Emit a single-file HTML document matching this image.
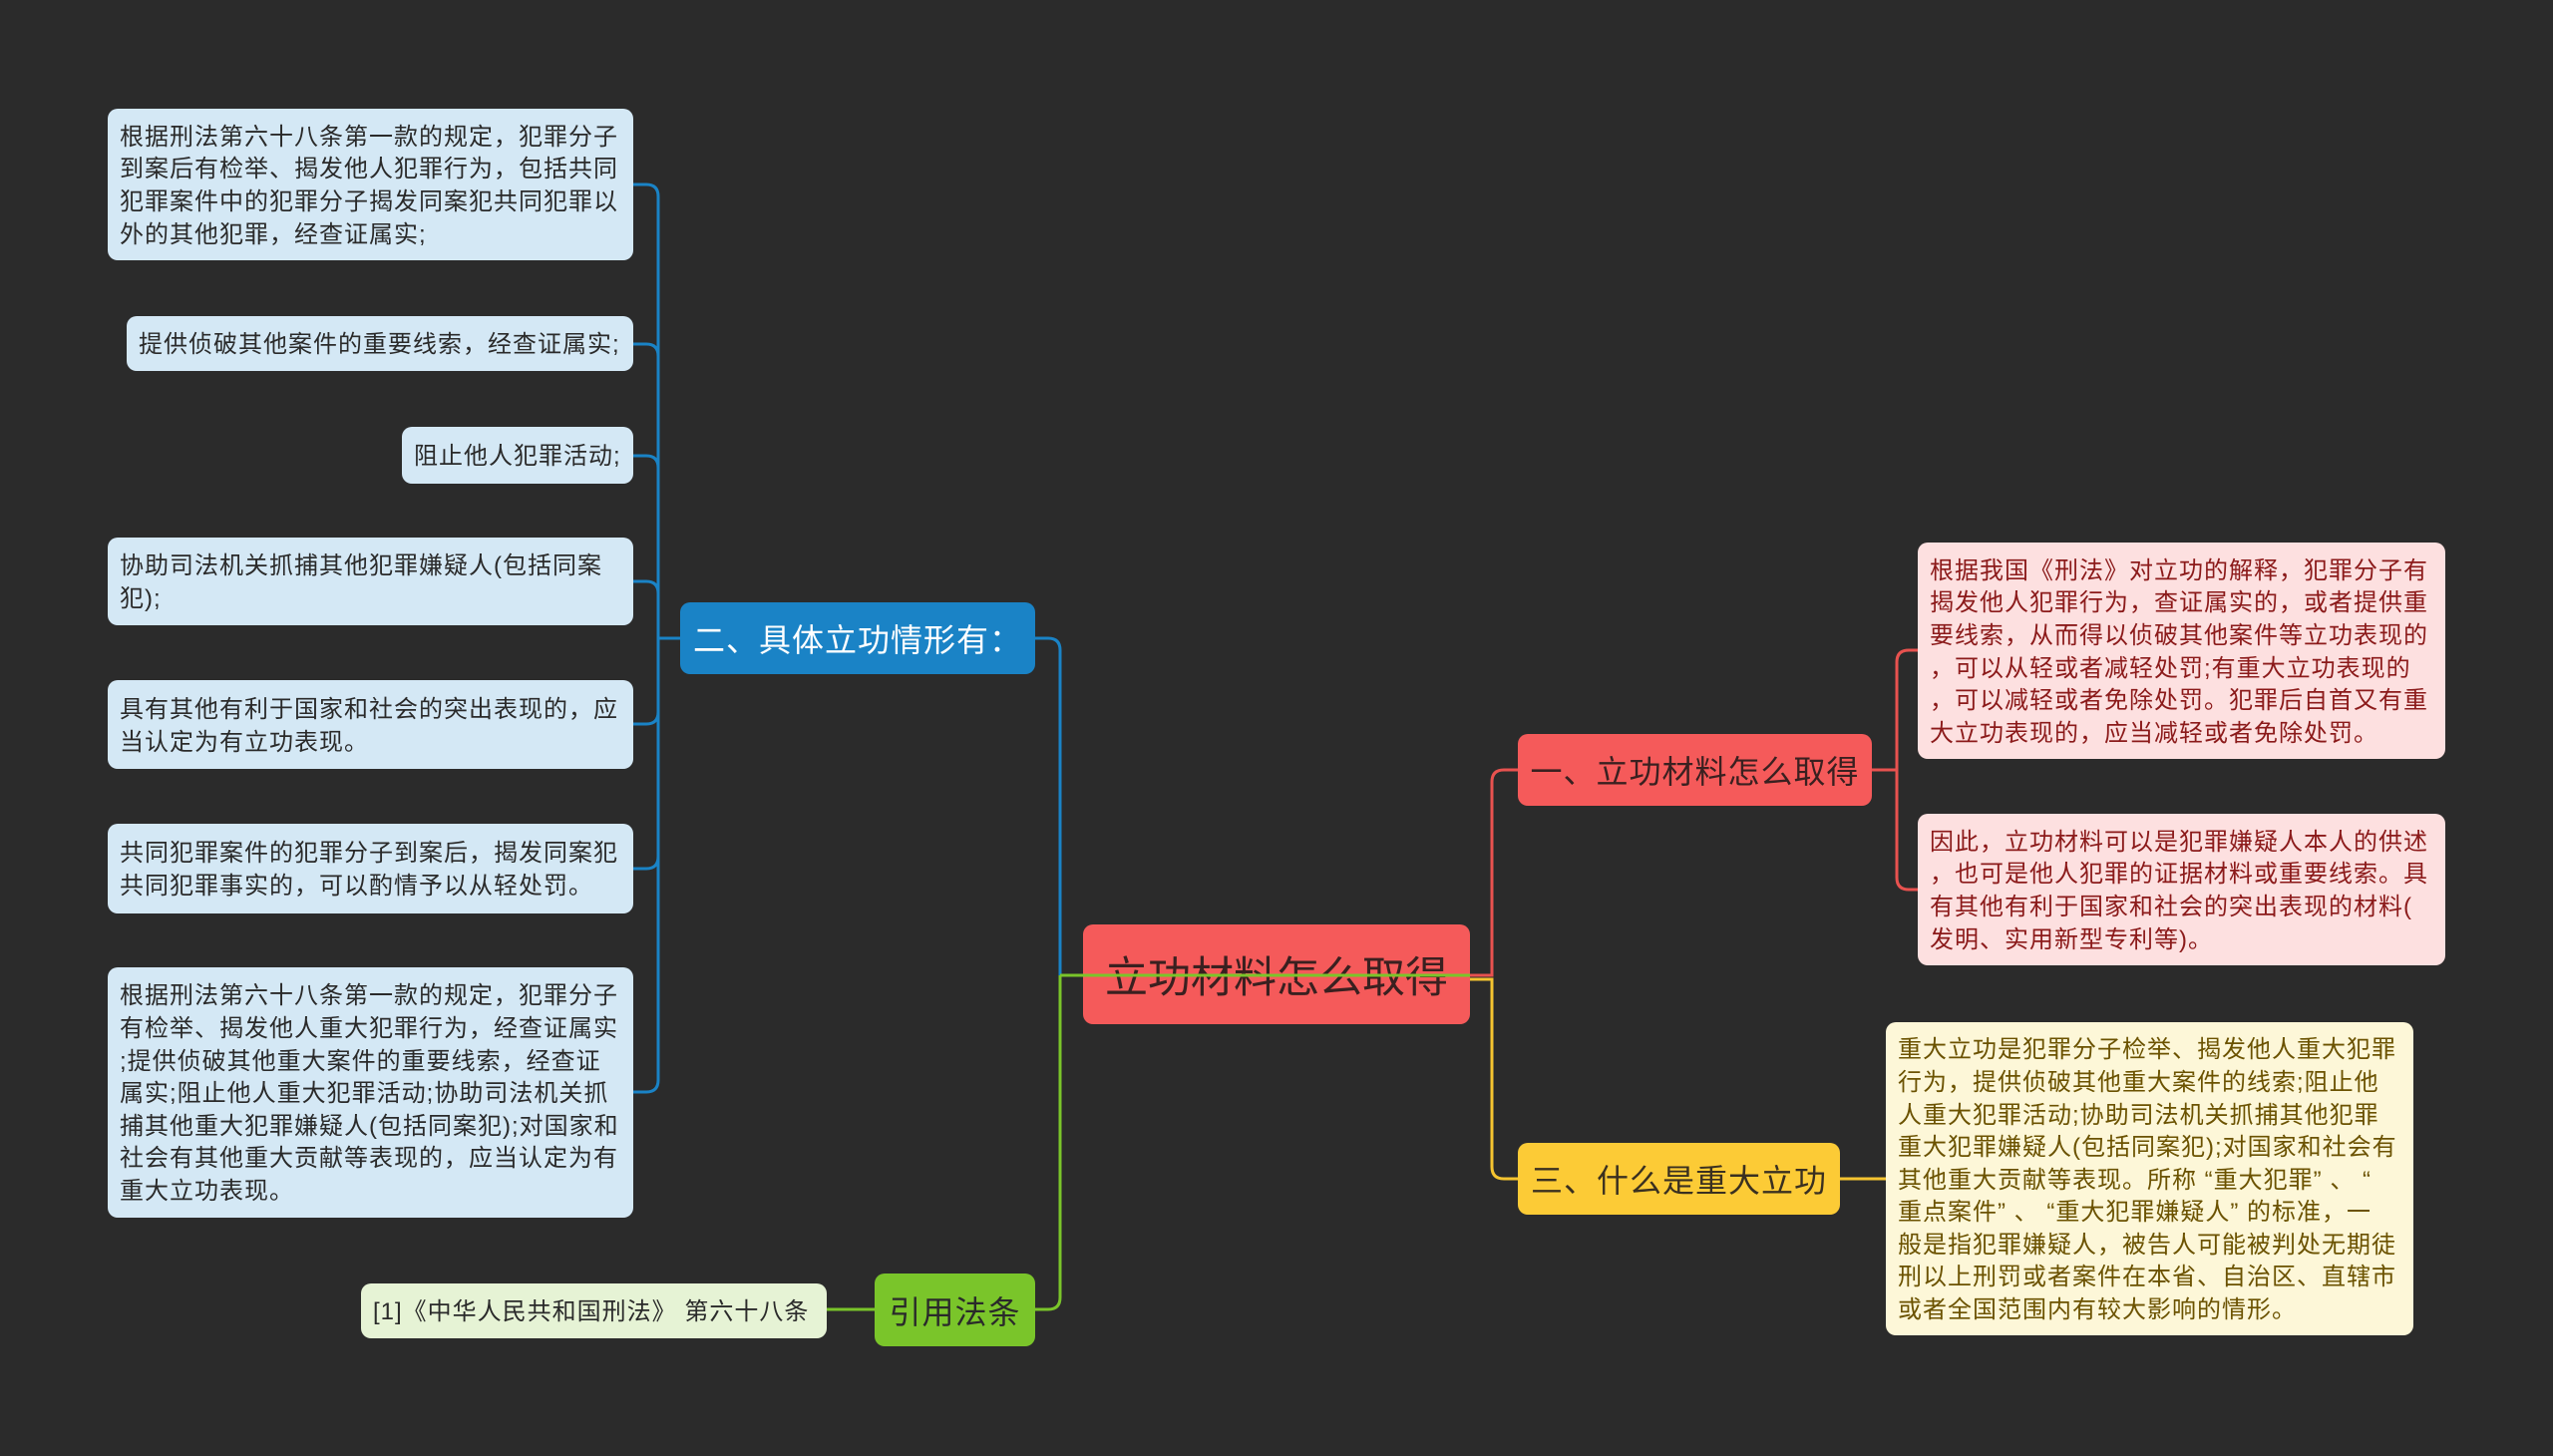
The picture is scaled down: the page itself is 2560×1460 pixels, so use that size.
<!DOCTYPE html>
<html><head><meta charset="utf-8"><style>
body{margin:0;width:2560px;height:1460px;background:#2b2b2b;overflow:hidden;position:relative;font-family:"Liberation Sans","Noto Sans CJK SC",sans-serif}
.n{position:absolute;box-sizing:border-box;border-radius:10px;white-space:nowrap}
.leaf{font-size:24px;line-height:32.6px;padding:4px 12px 0;letter-spacing:1px;display:flex;flex-direction:column;justify-content:center}
.b{background:#d4e8f5;color:#2a2a2a}
.r{background:#fde0e0;color:#8b1a1a}
.y{background:#fdf7d8;color:#6b5200}
.g{background:#e6f3d5;color:#2a2a2a}
.main{display:flex;align-items:center;justify-content:center;letter-spacing:1px}
svg{position:absolute;left:0;top:0}
</style></head><body>
<svg width="2560" height="1460" fill="none" stroke-width="3">
<g stroke="#1a83c6">
<path d="M635 185 H648 Q660 185 660 197 V628"/>
<path d="M635 345 H648 Q660 345 660 357"/>
<path d="M635 457 H648 Q660 457 660 469"/>
<path d="M635 583 H648 Q660 583 660 595"/>
<path d="M635 726 H648 Q660 726 660 714"/>
<path d="M635 871 H648 Q660 871 660 859"/>
<path d="M635 1095 H648 Q660 1095 660 1083 V628"/>
<path d="M660 640 H682"/>
<path d="M1038 640 H1051 Q1063 640 1063 652 V978"/>
</g>
<g stroke="#7ac52a">
<path d="M1063 978 V1301 Q1063 1313 1051 1313 H1038"/>
<path d="M877 1313 H829"/>
</g>
<path stroke="#e8524f" d="M1474 978 H1496 V784 Q1496 772 1508 772 H1522"/>
<path stroke="#f5c430" d="M1474 982 H1496 V1170 Q1496 1182 1508 1182 H1522"/>
<path stroke="#f5c430" d="M1845 1182 H1891"/>
<g stroke="#e8524f">
<path d="M1877 772 H1902"/>
<path d="M1923 652 H1914 Q1902 652 1902 664 V880 Q1902 892 1914 892 H1923"/>
</g>
</svg>

<div class="n leaf b" style="left:108px;top:109px;width:527px;height:152px">根据刑法第六十八条第一款的规定，犯罪分子<br>到案后有检举、揭发他人犯罪行为，包括共同<br>犯罪案件中的犯罪分子揭发同案犯共同犯罪以<br>外的其他犯罪，经查证属实;</div>
<div class="n leaf b" style="left:127px;top:317px;width:508px;height:55px">提供侦破其他案件的重要线索，经查证属实;</div>
<div class="n leaf b" style="left:403px;top:428px;width:232px;height:57px">阻止他人犯罪活动;</div>
<div class="n leaf b" style="left:108px;top:539px;width:527px;height:88px">协助司法机关抓捕其他犯罪嫌疑人(包括同案<br>犯);</div>
<div class="n leaf b" style="left:108px;top:682px;width:527px;height:89px">具有其他有利于国家和社会的突出表现的，应<br>当认定为有立功表现。</div>
<div class="n leaf b" style="left:108px;top:826px;width:527px;height:90px">共同犯罪案件的犯罪分子到案后，揭发同案犯<br>共同犯罪事实的，可以酌情予以从轻处罚。</div>
<div class="n leaf b" style="left:108px;top:970px;width:527px;height:251px">根据刑法第六十八条第一款的规定，犯罪分子<br>有检举、揭发他人重大犯罪行为，经查证属实<br>;提供侦破其他重大案件的重要线索，经查证<br>属实;阻止他人重大犯罪活动;协助司法机关抓<br>捕其他重大犯罪嫌疑人(包括同案犯);对国家和<br>社会有其他重大贡献等表现的，应当认定为有<br>重大立功表现。</div>

<div class="n main" style="left:682px;top:604px;width:356px;height:72px;background:#1a83c6;color:#fff;font-size:32px">二、具体立功情形有：</div>
<div class="n main" style="left:877px;top:1277px;width:161px;height:73px;background:#7ac52a;color:#2a2a2a;font-size:32px">引用法条</div>
<div class="n leaf g" style="left:362px;top:1287px;width:467px;height:55px">[1]《中华人民共和国刑法》 第六十八条</div>

<div class="n main" style="left:1086px;top:927px;width:388px;height:100px;background:#f55a5a;color:#3a2020;font-size:43px;letter-spacing:0">立功材料怎么取得</div>
<svg width="2560" height="1460" fill="none" stroke-width="3"><path stroke="#7ac52a" d="M1063 978 H1474"/></svg>
<div class="n main" style="left:1522px;top:736px;width:355px;height:72px;background:#f55a5a;color:#3a2020;font-size:32px">一、立功材料怎么取得</div>
<div class="n main" style="left:1522px;top:1146px;width:323px;height:72px;background:#fccb36;color:#3a3020;font-size:32px">三、什么是重大立功</div>

<div class="n leaf r" style="left:1923px;top:544px;width:529px;height:217px">根据我国《刑法》对立功的解释，犯罪分子有<br>揭发他人犯罪行为，查证属实的，或者提供重<br>要线索，从而得以侦破其他案件等立功表现的<br>，可以从轻或者减轻处罚;有重大立功表现的<br>，可以减轻或者免除处罚。犯罪后自首又有重<br>大立功表现的，应当减轻或者免除处罚。</div>
<div class="n leaf r" style="left:1923px;top:816px;width:529px;height:152px">因此，立功材料可以是犯罪嫌疑人本人的供述<br>，也可是他人犯罪的证据材料或重要线索。具<br>有其他有利于国家和社会的突出表现的材料(<br>发明、实用新型专利等)。</div>
<div class="n leaf y" style="left:1891px;top:1025px;width:529px;height:314px">重大立功是犯罪分子检举、揭发他人重大犯罪<br>行为，提供侦破其他重大案件的线索;阻止他<br>人重大犯罪活动;协助司法机关抓捕其他犯罪<br>重大犯罪嫌疑人(包括同案犯);对国家和社会有<br>其他重大贡献等表现。所称 “重大犯罪” 、 “<br>重点案件” 、 “重大犯罪嫌疑人” 的标准，一<br>般是指犯罪嫌疑人，被告人可能被判处无期徒<br>刑以上刑罚或者案件在本省、自治区、直辖市<br>或者全国范围内有较大影响的情形。</div>
</body></html>
